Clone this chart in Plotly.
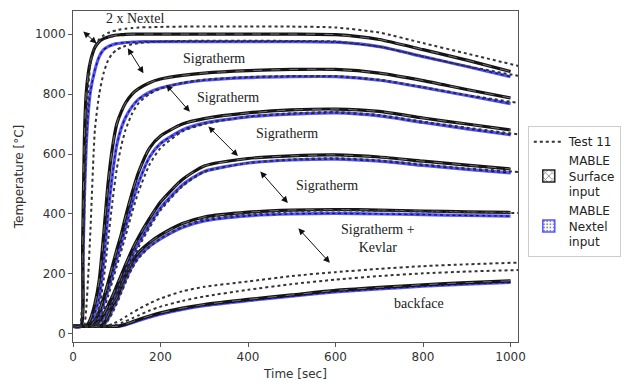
import plotly.graph_objects as go

# ---- time grids (s) ----
TIME_MABLE = [0, 18, 22, 26, 30, 35, 40, 50, 60, 70, 80, 90, 100, 110, 120, 135,
              150, 175, 200, 250, 300, 400, 500, 600, 700, 800, 900, 1000]
TIME_TEST = [0, 15, 20, 25, 30, 35, 40, 50, 60, 70, 80, 90, 100, 110, 120, 135,
             150, 175, 200, 250, 300, 400, 500, 600, 700, 800, 900, 1020]

# ---- MABLE, surface temperature input (°C) ----
surf_1 = [25, 25, 300, 650, 800, 870, 910, 955, 975, 985, 990, 994, 997, 998, 999, 1000,
          1000, 1000, 1000, 1000, 1000, 1000, 1000, 998, 982, 948, 913, 875]
surf_2 = [25, 25, 25, 25, 28, 35, 50, 100, 180, 330, 500, 620, 700, 740, 770, 800,
          818, 838, 850, 862, 870, 878, 882, 882, 870, 845, 815, 787]
surf_3 = [25, 25, 25, 25, 25, 25, 28, 45, 75, 120, 170, 225, 280, 330, 390, 470,
          540, 620, 660, 700, 718, 737, 747, 750, 742, 720, 700, 680]
surf_4 = [25, 25, 25, 25, 25, 25, 25, 30, 45, 65, 95, 125, 160, 195, 230, 280,
          323, 385, 440, 515, 560, 585, 594, 597, 590, 576, 563, 550]
surf_5 = [25, 25, 25, 25, 25, 25, 25, 25, 26, 35, 60, 95, 120, 160, 195, 240,
          272, 305, 330, 368, 390, 406, 413, 415, 413, 410, 407, 405]
surf_back = [25, 25, 25, 25, 25, 25, 25, 25, 25, 25, 25, 25, 25, 28, 32, 40,
             48, 60, 70, 86, 98, 115, 130, 145, 155, 164, 171, 177]

# ---- MABLE, Nextel temperature input (°C) ----
nex_1 = [25, 25, 200, 450, 620, 740, 810, 880, 925, 948, 958, 964, 968, 970, 972, 973,
         974, 975, 975, 975, 975, 975, 975, 973, 958, 925, 892, 858]
nex_2 = [25, 25, 25, 25, 25, 28, 35, 70, 120, 240, 400, 530, 630, 685, 722, 758,
         783, 806, 820, 836, 846, 855, 858, 858, 846, 822, 795, 768]
nex_3 = [25, 25, 25, 25, 25, 25, 25, 35, 60, 100, 145, 195, 250, 300, 355, 435,
         505, 590, 635, 680, 703, 724, 733, 737, 727, 705, 684, 664]
nex_4 = [25, 25, 25, 25, 25, 25, 25, 27, 38, 55, 82, 110, 143, 175, 210, 260,
         303, 365, 420, 497, 542, 570, 580, 583, 576, 562, 549, 537]
nex_5 = [25, 25, 25, 25, 25, 25, 25, 25, 25, 30, 50, 80, 110, 145, 180, 225,
         258, 292, 317, 355, 377, 394, 400, 402, 400, 398, 395, 393]
nex_back = [25, 25, 25, 25, 25, 25, 25, 25, 25, 25, 25, 25, 25, 27, 30, 37,
            45, 56, 66, 82, 94, 111, 126, 140, 150, 159, 166, 172]

# ---- Test 11 thermocouples (°C) ----
test_1 = [25, 25, 80, 350, 650, 820, 900, 960, 983, 996, 1004, 1009, 1013, 1016, 1018, 1020,
          1022, 1023, 1024, 1025, 1025, 1025, 1025, 1022, 1005, 970, 935, 893]
test_2 = [25, 25, 25, 25, 80, 200, 350, 680, 800, 870, 912, 935, 948, 955, 960, 966,
          970, 973, 975, 977, 978, 978, 977, 975, 958, 925, 893, 860]
test_3 = [25, 25, 25, 25, 25, 25, 25, 45, 90, 180, 310, 440, 550, 625, 680, 735,
          770, 800, 818, 838, 848, 857, 860, 860, 848, 823, 797, 770]
test_4 = [25, 25, 25, 25, 25, 25, 25, 25, 45, 80, 125, 175, 225, 275, 325, 405,
          475, 565, 620, 675, 700, 725, 736, 740, 730, 708, 688, 665]
test_5 = [25, 25, 25, 25, 25, 25, 25, 25, 30, 45, 70, 98, 128, 160, 195, 245,
          290, 355, 412, 492, 540, 570, 582, 586, 579, 565, 552, 540]
test_6 = [25, 25, 25, 25, 25, 25, 25, 25, 25, 28, 45, 70, 100, 135, 170, 218,
          252, 290, 318, 358, 382, 400, 408, 412, 410, 408, 406, 403]
test_7 = [25, 25, 25, 25, 25, 25, 25, 25, 25, 25, 28, 33, 40, 48, 57, 70,
          83, 102, 118, 142, 157, 175, 193, 206, 217, 226, 232, 238]
test_8 = [25, 25, 25, 25, 25, 25, 25, 25, 25, 25, 25, 27, 31, 36, 42, 52,
          62, 78, 91, 110, 125, 147, 166, 181, 193, 202, 208, 213]

SURFACE = [surf_1, surf_2, surf_3, surf_4, surf_5, surf_back]
NEXTEL = [nex_1, nex_2, nex_3, nex_4, nex_5, nex_back]
TESTS = [test_1, test_2, test_3, test_4, test_5, test_6, test_7, test_8]

# ---- layer labels (text, time, temperature) ----
LABELS = [("2 x Nextel", 142, 1052), ("Sigratherm", 322, 918), ("Sigratherm", 354, 788),
          ("Sigratherm", 489, 668), ("Sigratherm", 581, 495),
          ("Sigratherm +<br>Kevlar", 697, 318), ("backface", 791, 101)]
# double-headed arrows between layers: (t0, T0, t1, T1)
ARROWS = [(20, 1013, 54, 969), (123, 958, 161, 869), (210, 836, 267, 741),
          (306, 697, 377, 593), (425, 547, 491, 437), (512, 357, 587, 237)]

SPLINE = dict(shape="spline", smoothing=0.6)
BLUE = "rgb(85,85,255)"
fig = go.Figure()

for ys in NEXTEL:
    fig.add_trace(go.Scatter(x=TIME_MABLE, y=ys, mode="lines", showlegend=False,
                             line=dict(color=BLUE, width=3.2, **SPLINE)))
    fig.add_trace(go.Scatter(x=TIME_MABLE, y=ys, mode="lines", showlegend=False,
                             line=dict(color="#14145a", width=1.3, dash="dot", **SPLINE)))
for ys in SURFACE:
    fig.add_trace(go.Scatter(x=TIME_MABLE, y=ys, mode="lines", showlegend=False,
                             line=dict(color="#151515", width=3.2, **SPLINE)))
    fig.add_trace(go.Scatter(x=TIME_MABLE, y=ys, mode="lines", showlegend=False,
                             line=dict(color="#8a8a8a", width=0.8, dash="dash", **SPLINE)))
for ys in TESTS:
    fig.add_trace(go.Scatter(x=TIME_TEST, y=ys, mode="lines", showlegend=False,
                             line=dict(color="#333333", width=2, dash="dot", **SPLINE)))

# legend entries
fig.add_trace(go.Scatter(x=[None], y=[None], mode="lines", name="Test 11",
                         line=dict(color="#333333", width=2, dash="dot")))
fig.add_trace(go.Bar(x=[None], y=[None], name="MABLE<br>Surface<br>input",
                     marker=dict(color="white", line=dict(color="#222222", width=1.5),
                                 pattern=dict(shape="x", fgcolor="#222222", bgcolor="white",
                                              size=6, solidity=0.35))))
fig.add_trace(go.Bar(x=[None], y=[None], name="MABLE<br>Nextel<br>input",
                     marker=dict(color="white", line=dict(color=BLUE, width=1.5),
                                 pattern=dict(shape=".", fgcolor="#14145a", bgcolor="white",
                                              size=4, solidity=0.3))))

for text, tx, ty in LABELS:
    fig.add_annotation(x=tx, y=ty, text=text, showarrow=False,
                       font=dict(family="Liberation Serif", size=14, color="#222222"))
for t0, y0, t1, y1 in ARROWS:
    fig.add_annotation(x=t1, y=y1, ax=t0, ay=y0, xref="x", yref="y", axref="x", ayref="y",
                       text="", showarrow=True, arrowside="end+start", arrowhead=2,
                       arrowsize=1.3, arrowwidth=1, arrowcolor="#111111")

axis_common = dict(showgrid=False, zeroline=False, showline=True, mirror=True,
                   linecolor="#555555", linewidth=1, ticks="outside", ticklen=4,
                   tickcolor="#555555", tickfont=dict(size=12, color="#333333"),
                   automargin=False)
fig.update_xaxes(range=[0, 1017], tickvals=[0, 200, 400, 600, 800, 1000],
                 title=dict(text="Time [sec]", font=dict(size=12, color="#333333"), standoff=6),
                 **axis_common)
fig.update_yaxes(range=[-27, 1077], tickvals=[0, 200, 400, 600, 800, 1000],
                 title=dict(text="Temperature [°C]", font=dict(size=12, color="#333333"), standoff=8),
                 **axis_common)

fig.update_layout(
    width=632, height=383,
    margin=dict(l=73, r=114, t=11, b=41),
    paper_bgcolor="white", plot_bgcolor="white",
    font=dict(family="DejaVu Sans", size=12, color="#222222"),
    legend=dict(x=1.022, y=0.652, xanchor="left", yanchor="top",
                bgcolor="white", bordercolor="#cccccc", borderwidth=1,
                font=dict(size=12, color="#222222"), tracegroupgap=0, itemwidth=30),
)

fig.write_html("out.html")
